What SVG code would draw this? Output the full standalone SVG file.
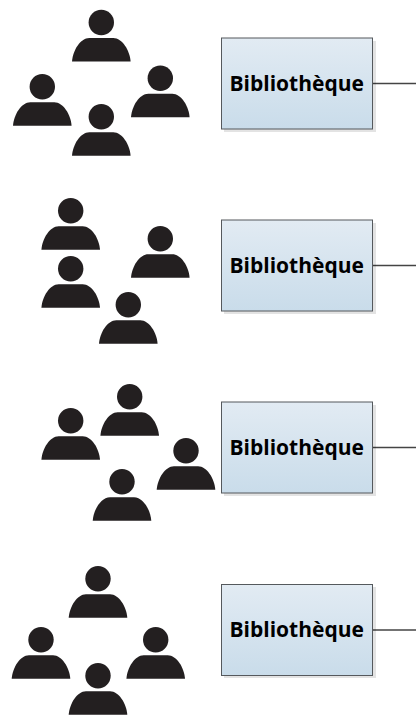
<svg xmlns="http://www.w3.org/2000/svg" xmlns:xlink="http://www.w3.org/1999/xlink" width="416" height="715" viewBox="0 0 416 715">
<style>
.box{fill:url(#g);stroke:#55595d;stroke-width:1}
.sh{fill:#000;fill-opacity:.11}
.lbl{font-family:"Open Sans","Noto Sans","Liberation Sans",sans-serif;font-weight:700;font-size:21px;fill:#000;text-anchor:middle}
.con{stroke:#444;stroke-width:1.5;fill:none}
.p{fill:#231f20}
</style>
<defs>
<linearGradient id="g" x1="0" y1="0" x2="0" y2="1"><stop offset="0" stop-color="#e2ebf3"/><stop offset="1" stop-color="#c9dcea"/></linearGradient>
<g id="person"><circle cx="0" cy="0" r="12.7"/><path d="M-29.3 39C-28.5 28 -21 15.5 -12 15.5H12C21 15.5 28.5 28 29.3 39Z"/></g>
</defs>
<rect width="416" height="715" fill="#fff"/>
<g id="connectors">
<path class="con" d="M373 83.5H416"/>
<path class="con" d="M373 265.5H416"/>
<path class="con" d="M373 447.5H416"/>
<path class="con" d="M373 630H416"/>
</g>
<g id="people-1" class="p">
<use xlink:href="#person" x="101.3" y="22.5"/><use xlink:href="#person" x="42.3" y="86.7"/><use xlink:href="#person" x="160.3" y="78.3"/><use xlink:href="#person" x="101.3" y="116.7"/>
</g>
<g id="people-2" class="p">
<use xlink:href="#person" x="70.7" y="210.7"/><use xlink:href="#person" x="160.3" y="238.7"/><use xlink:href="#person" x="70.7" y="268.7"/><use xlink:href="#person" x="128.3" y="304.7"/>
</g>
<g id="people-3" class="p">
<use xlink:href="#person" x="129.7" y="396.7"/><use xlink:href="#person" x="70.7" y="420.7"/><use xlink:href="#person" x="186" y="450.7"/><use xlink:href="#person" x="122" y="481.7"/>
</g>
<g id="people-4" class="p">
<use xlink:href="#person" x="98" y="578.7"/><use xlink:href="#person" x="41" y="639.7"/><use xlink:href="#person" x="155.7" y="639.7"/><use xlink:href="#person" x="98" y="675.7"/>
</g>
<g id="box-1"><rect class="sh" x="224" y="41" width="152" height="91"/><rect class="box" x="221.5" y="38" width="151" height="91"/><text class="lbl" x="296.7" y="91">Bibliothèque</text></g>
<g id="box-2"><rect class="sh" x="224" y="223" width="152" height="91"/><rect class="box" x="221.5" y="220" width="151" height="91"/><text class="lbl" x="296.7" y="272.5">Bibliothèque</text></g>
<g id="box-3"><rect class="sh" x="224" y="405" width="152" height="91"/><rect class="box" x="221.5" y="402" width="151" height="91"/><text class="lbl" x="296.7" y="454.5">Bibliothèque</text></g>
<g id="box-4"><rect class="sh" x="224" y="587" width="152" height="91"/><rect class="box" x="221.5" y="584.5" width="151" height="91"/><text class="lbl" x="296.7" y="637">Bibliothèque</text></g>
</svg>
